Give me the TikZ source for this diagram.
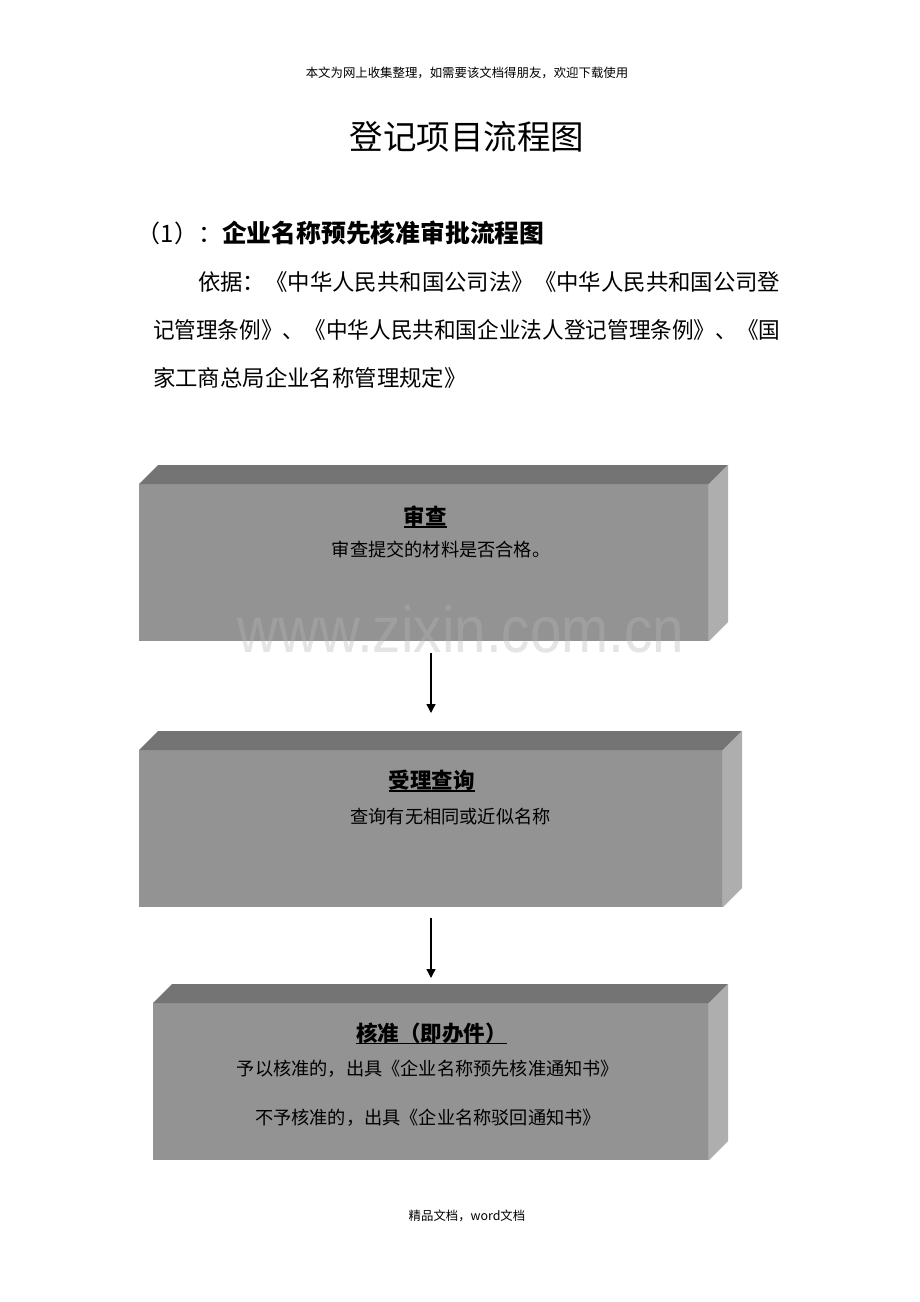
\documentclass[tikz,border=0pt]{standalone}
\usepackage{fontspec}
\setmainfont{Noto Sans CJK SC}
\newfontfamily\wmfont{Liberation Sans}
\usetikzlibrary{arrows.meta}
\definecolor{frontgray}{RGB}{147,147,147}
\definecolor{topgray}{RGB}{116,116,116}
\definecolor{sidegray}{RGB}{174,174,174}
\definecolor{edgegray}{RGB}{168,168,168}
\definecolor{wmgray}{RGB}{183,183,183}
\newcommand{\fsz}[1]{\fontsize{#1}{#1}\selectfont}
\newcommand{\mkcuboid}[1]{%
  \fill[topgray] (#1.north west) -- ++(19,-19) -- ([shift={(19,-19)}]#1.north east) -- (#1.north east) -- cycle;
  \fill[sidegray] (#1.north east) -- ++(19,-19) -- ([shift={(19,-19)}]#1.south east) -- (#1.south east) -- cycle;
  \draw[edgegray, line width=1pt] ([xshift=-0.5pt]#1.north east) -- ([xshift=-0.5pt]#1.south east);
}
\begin{document}
\begin{tikzpicture}[x=1pt,y=-1pt,
  txt/.style={inner sep=0pt, outer sep=0pt, text=black},
  hdr/.style={txt, font=\fsz{12.4pt}},
  ttl/.style={txt, font=\fsz{33.5pt}},
  subp/.style={txt, font=\fsz{24pt}},
  subb/.style={txt, font=\fsz{24.8pt}\bfseries},
  body/.style={txt, font=\fsz{22.4pt}},
  frontface/.style={fill=frontgray, draw=none, inner sep=0pt, outer sep=0pt, minimum height=157pt},
  boxtitle/.style={txt, font=\fsz{21.5pt}\bfseries},
  boxdesc/.style={txt, font=\fsz{18.2pt}},
  uline/.style={line width=1.4pt, black},
  wm/.style={txt, font=\wmfont\fsz{65pt}, text=wmgray, text opacity=0.36, xscale=0.87},
  arr/.style={line width=1.3pt, black, -{Triangle[length=9pt,width=9pt]}}
]
\fill[white] (0,0) rectangle (920,1302);
\useasboundingbox (0,0) rectangle (920,1302);

% header texts
\node[hdr] (hdr) at (467,73) {本文为网上收集整理，如需要该文档得朋友，欢迎下载使用};
\node[ttl] (ttl) at (467,137) {登记项目流程图};
\node[subp, anchor=east] (subpre) at (222,233) {（1）：};
\node[subb, anchor=west] (subtxt) at (222,233) {企业名称预先核准审批流程图};
\node[body, anchor=west] (l1) at (198,282) {依据：《中华人民共和国公司法》《中华人民共和国公司登};
\node[body, anchor=west, xscale=0.966] (l2) at (153,330) {记管理条例》、《中华人民共和国企业法人登记管理条例》、《国};
\node[body, anchor=west] (l3) at (153,378) {家工商总局企业名称管理规定》};

% boxes
\node[frontface, minimum width=570pt] (b1) at (424,562.5) {};
\mkcuboid{b1}
\node[frontface, minimum width=584pt] (b2) at (431,828.5) {};
\mkcuboid{b2}
\node[frontface, minimum width=556pt] (b3) at (431,1081.5) {};
\mkcuboid{b3}

% box texts
\node[boxtitle] (t1) at (425,516) {审查};
\draw[uline] ([yshift=-2.5pt]t1.base west) -- ([yshift=-2.5pt]t1.base east);
\node[boxdesc] (d1) at (441,550) {审查提交的材料是否合格。};

\node[boxtitle] (t2) at (431.5,780) {受理查询};
\draw[uline] ([yshift=-2.5pt]t2.base west) -- ([yshift=-2.5pt]t2.base east);
\node[boxdesc] (d2) at (450.5,817) {查询有无相同或近似名称};

\node[boxtitle] (t3) at (431.5,1033) {核准（即办件）};
\draw[uline] ([yshift=-2.5pt]t3.base west) -- ([yshift=-2.5pt]t3.base east);
\node[boxdesc] (d3a) at (428,1069) {予以核准的，出具《企业名称预先核准通知书》};
\node[boxdesc] (d3b) at (428,1118) {不予核准的，出具《企业名称驳回通知书》};

% watermark
\node[wm, anchor=base] (wmk) at (461,652) {www.zixin.com.cn};

% arrows
\coordinate (a1s) at (431,653);
\coordinate (a1e) at (431,713);
\coordinate (a2s) at (431,918);
\coordinate (a2e) at (431,978);
\draw[arr] (a1s) -- (a1e);
\draw[arr] (a2s) -- (a2e);

% footer
\node[hdr] (ftr) at (467,1216) {精品文档，word文档};
\end{tikzpicture}
\end{document}
